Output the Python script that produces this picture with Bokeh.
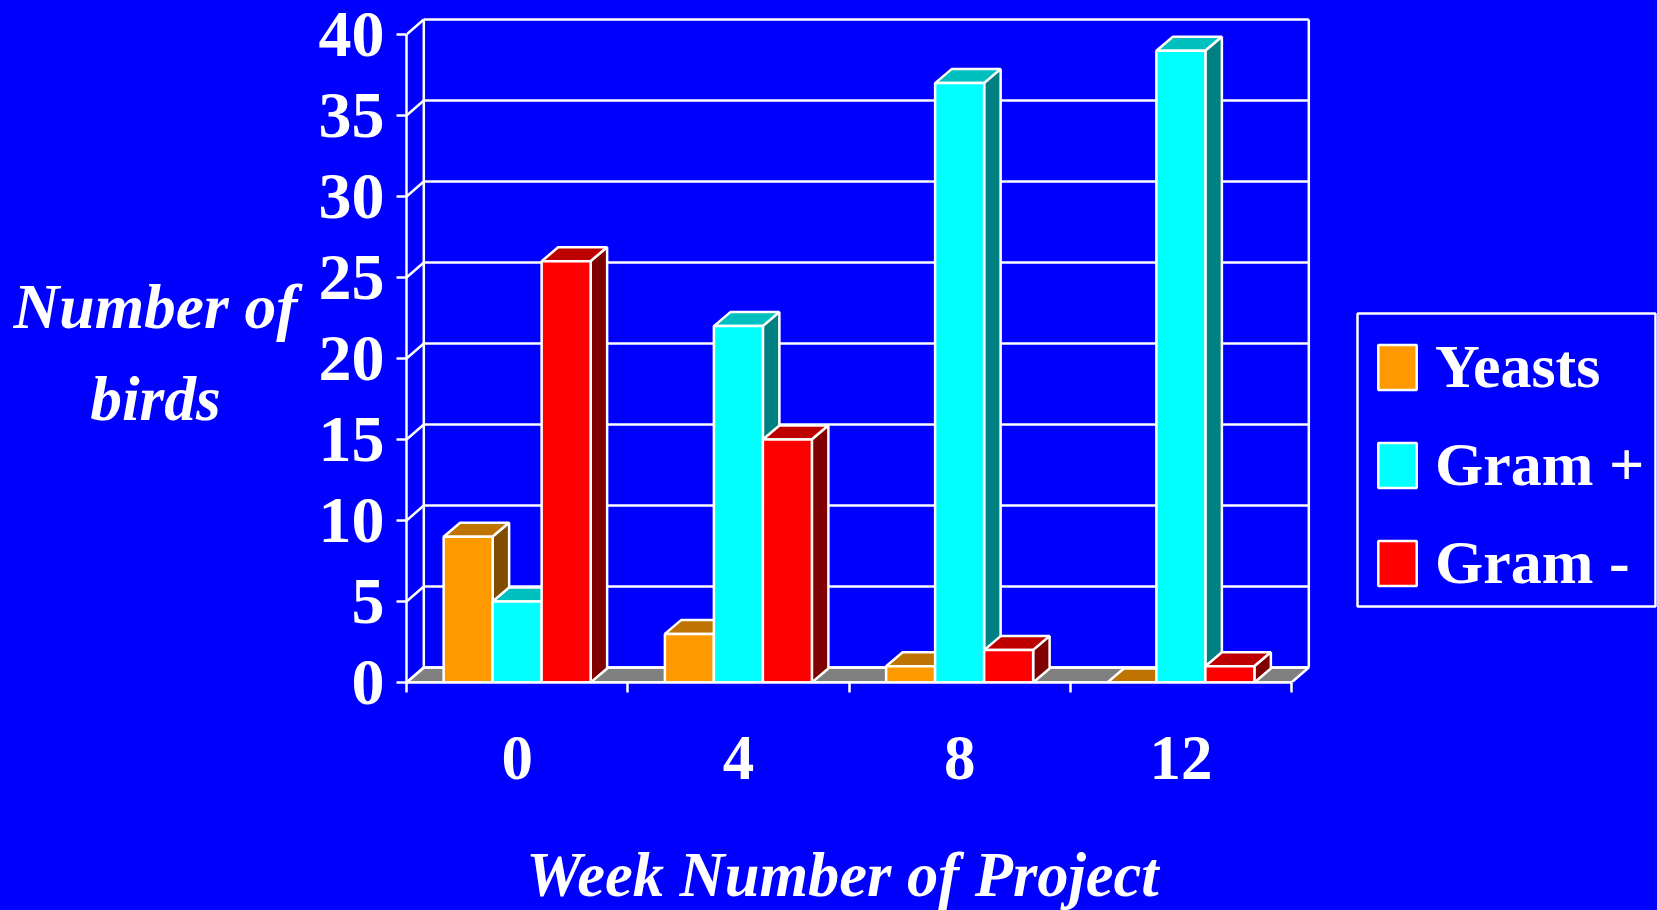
from bokeh.plotting import figure
from bokeh.models import (Range1d, FixedTicker, Label, Legend, LegendItem, LinearAxis, BoxAnnotation)
from bokeh.embed import file_html
from bokeh.resources import INLINE

weeks = ["0", "4", "8", "12"]
yeasts = [9, 3, 1, 0]
gram_pos = [5, 22, 37, 39]
gram_neg = [26, 15, 2, 1]
y_ticks = [0, 5, 10, 15, 20, 25, 30, 35, 40]

WHITE = "#FFFFFF"
BLUE = "#0000FF"
series = [
    ("Yeasts", yeasts, "#FF9900", "#BF7300", "#804D00"),
    ("Gram +", gram_pos, "#00FFFF", "#00BFBF", "#008080"),
    ("Gram -", gram_neg, "#FF0000", "#BF0000", "#800000"),
]

# pixel scale of the plot frame
PX_X = 221.25   # pixels per category
PX_Y = 16.2     # pixels per unit
FRAME_L, FRAME_B = 406, 682
FRAME_W, FRAME_H = 1657 - FRAME_L, FRAME_B
WALL_DX, WALL_DY = 17.3 / PX_X, 15.0 / PX_Y
BAR_DX, BAR_DY = 16.5 / PX_X, 14.0 / PX_Y
BAR_W = 49.0 / PX_X
N = len(weeks)
FONT = "Liberation Serif"
LW = 2.5

p = figure(width=1657, height=910, output_backend="svg", toolbar_location=None,
           x_range=Range1d(0, FRAME_W / PX_X), y_range=Range1d(0, FRAME_H / PX_Y),
           frame_width=FRAME_W, frame_height=FRAME_H,
           min_border_left=FRAME_L, min_border_top=0, min_border_bottom=910 - FRAME_B, min_border_right=0,
           background_fill_color=BLUE, border_fill_color=BLUE,
           outline_line_color=BLUE, outline_line_width=1,
           x_axis_type=None, y_axis_type=None,
           styles={"position": "fixed", "left": "0", "top": "0", "background-color": BLUE})
p.grid.visible = False

# floor
p.patch([0, WALL_DX, N + WALL_DX, N], [0, WALL_DY, WALL_DY, 0],
        fill_color="#808080", line_color=WHITE, line_width=LW)
# back wall grid lines and side-wall connectors
p.segment([WALL_DX] * len(y_ticks), [v + WALL_DY for v in y_ticks],
          [N + WALL_DX] * len(y_ticks), [v + WALL_DY for v in y_ticks],
          line_color=WHITE, line_width=LW)
p.segment([0] * len(y_ticks), y_ticks, [WALL_DX] * len(y_ticks),
          [v + WALL_DY for v in y_ticks], line_color=WHITE, line_width=LW)
# wall verticals
top = max(y_ticks)
p.segment([WALL_DX, N + WALL_DX], [WALL_DY, WALL_DY], [WALL_DX, N + WALL_DX],
          [top + WALL_DY, top + WALL_DY], line_color=WHITE, line_width=LW)

items = []
for i, (name, vals, front, topc, side) in enumerate(series):
    xs = [c + 0.5 + (i - 1) * BAR_W for c in range(N)]
    lefts = [x - BAR_W / 2 for x in xs]
    rights = [x + BAR_W / 2 for x in xs]
    p.patches([[l, l + BAR_DX, r + BAR_DX, r] for l, r in zip(lefts, rights)],
              [[v, v + BAR_DY, v + BAR_DY, v] for v in vals],
              fill_color=topc, line_color=WHITE, line_width=LW)
    p.patches([[r, r + BAR_DX, r + BAR_DX, r] for r in rights],
              [[0, BAR_DY, v + BAR_DY, v] for v in vals],
              fill_color=side, line_color=WHITE, line_width=LW)
    r = p.vbar(x=xs, top=vals, bottom=0, width=BAR_W, fill_color=front,
               line_color=WHITE, line_width=LW)
    items.append(LegendItem(label=name, renderers=[r]))

# axes
yax = LinearAxis(ticker=FixedTicker(ticks=y_ticks), bounds=(0, 40),
                 axis_line_color=WHITE, axis_line_width=LW,
                 major_tick_line_color=WHITE, major_tick_line_width=LW,
                 major_tick_in=0, major_tick_out=10, minor_tick_line_color=None,
                 major_label_text_color=WHITE, major_label_text_font=FONT,
                 major_label_text_font_style="bold", major_label_text_font_size="66px",
                 major_label_standoff=12)
p.add_layout(yax, "left")
xax = LinearAxis(ticker=FixedTicker(ticks=[c + 0.5 for c in range(N)],
                                    minor_ticks=list(range(N + 1))),
                 bounds=(0, N),
                 major_label_overrides={c + 0.5: w for c, w in enumerate(weeks)},
                 axis_line_color=WHITE, axis_line_width=LW,
                 major_tick_line_color=None, major_tick_in=0, major_tick_out=0,
                 minor_tick_line_color=WHITE, minor_tick_line_width=LW,
                 minor_tick_in=0, minor_tick_out=10,
                 major_label_text_color=WHITE, major_label_text_font=FONT,
                 major_label_text_font_style="bold", major_label_text_font_size="63px",
                 major_label_standoff=44)
p.add_layout(xax, "below")

p.add_layout(Label(x=436, y=-23, x_units="screen", y_units="screen", text="Week Number of Project",
                   text_color=WHITE, text_font=FONT, text_font_style="bold italic",
                   text_font_size="62.5px", text_align="center", text_baseline="middle"), "below")

p.add_layout(Label(x=124, y=330, x_units="screen", y_units="screen", text="Number of\nbirds",
                   text_color=WHITE, text_font=FONT, text_font_style="bold italic",
                   text_font_size="63.5px", text_align="center", text_baseline="middle",
                   text_line_height=1.295), "left")

legend = Legend(items=items, location=(967, 84), orientation="vertical",
                background_fill_alpha=0, border_line_color=None,
                glyph_width=48, glyph_height=56, label_height=46, spacing=27,
                padding=14, margin=0, label_standoff=14,
                label_text_color=WHITE, label_text_font=FONT,
                label_text_font_style="bold", label_text_font_size="62px")
p.add_layout(legend, "center")

p.add_layout(BoxAnnotation(left=1357 - FRAME_L, right=1655 - FRAME_L,
                           top=FRAME_B - 313, bottom=FRAME_B - 606,
                           left_units="screen", right_units="screen",
                           top_units="screen", bottom_units="screen",
                           fill_alpha=0, line_color=WHITE, line_alpha=1, line_width=LW))

open("out.html", "w").write(file_html(p, INLINE))
